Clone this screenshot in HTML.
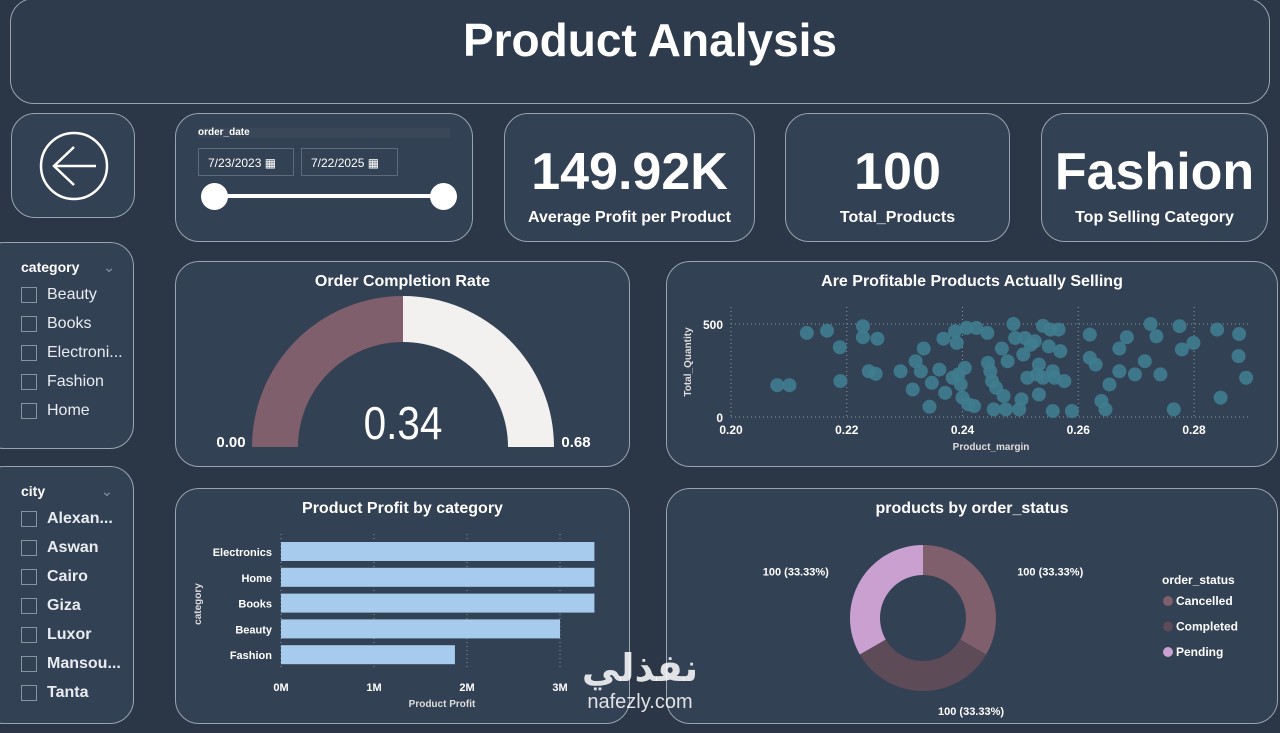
<!DOCTYPE html>
<html><head><meta charset="utf-8"><style>
body{margin:0;width:1280px;height:733px;background:#2b3747;font-family:"Liberation Sans","DejaVu Sans",sans-serif;color:#fff;overflow:hidden;position:relative}
.p{position:absolute;border:1.5px solid #9aa3ad;border-radius:24px;background:#334154;box-sizing:border-box}
.t{position:absolute;font-weight:bold;text-align:center;width:100%}
.cb{display:flex;align-items:center;font-size:16px;height:29px;color:#e8ecf0}
.cb i{width:14px;height:14px;border:1px solid #8a94a0;margin-right:10px;display:inline-block}
svg text{font-family:"Liberation Sans",sans-serif}
</style></head><body>
<div class="p" style="left:10px;top:-2px;width:1260px;height:106px;background:#2e3b4c"><div class="t" style="top:14px;font-size:46px;left:10px">Product Analysis</div></div>
<div class="p" style="left:11px;top:113px;width:124px;height:105px">
<svg width="124" height="105" style="position:absolute;left:0;top:0"><circle cx="62" cy="52" r="33" fill="none" stroke="#fff" stroke-width="2.5"/><path d="M84 52 L42 52 M62 33 L42 52 L62 71" fill="none" stroke="#fff" stroke-width="2.5"/></svg></div>
<div class="p" style="left:175px;top:113px;width:298px;height:129px">
<div style="position:absolute;left:22px;top:14px;width:252px;height:10px;background:#3a4758;font-size:10px;font-weight:bold;line-height:10px">order_date</div>
<div style="position:absolute;left:22px;top:34px;width:96px;height:28px;border:1px solid #5e6b7a;font-size:12px;line-height:28px;padding-left:9px;box-sizing:border-box">7/23/2023 ▦</div>
<div style="position:absolute;left:125px;top:34px;width:97px;height:28px;border:1px solid #5e6b7a;font-size:12px;line-height:28px;padding-left:9px;box-sizing:border-box">7/22/2025 ▦</div>
<div style="position:absolute;left:38px;top:80px;width:230px;height:4px;background:#fff"></div>
<div style="position:absolute;left:25px;top:69px;width:27px;height:27px;border-radius:50%;background:#fff"></div>
<div style="position:absolute;left:254px;top:69px;width:27px;height:27px;border-radius:50%;background:#fff"></div>
</div>
<div class="p" style="left:504px;top:113px;width:251px;height:129px"><div class="t" style="top:28px;font-size:52px">149.92K</div><div class="t" style="top:95px;font-size:16px">Average Profit per Product</div></div>
<div class="p" style="left:785px;top:113px;width:225px;height:129px"><div class="t" style="top:28px;font-size:52px">100</div><div class="t" style="top:95px;font-size:16px">Total_Products</div></div>
<div class="p" style="left:1041px;top:113px;width:227px;height:129px"><div class="t" style="top:28px;font-size:52px">Fashion</div><div class="t" style="top:95px;font-size:16px">Top Selling Category</div></div>
<div class="p" style="left:-20px;top:242px;width:154px;height:207px;padding:16px 0 0 40px">
<div style="font-size:14px;font-weight:bold;margin-bottom:4px">category <span style="color:#7a8594;margin-left:20px">⌄</span></div>
<div class="cb"><i></i>Beauty</div><div class="cb"><i></i>Books</div><div class="cb"><i></i>Electroni...</div><div class="cb"><i></i>Fashion</div><div class="cb"><i></i>Home</div></div>
<div class="p" style="left:-20px;top:466px;width:154px;height:258px;padding:16px 0 0 40px">
<div style="font-size:14px;font-weight:bold;margin-bottom:4px">city <span style="color:#7a8594;margin-left:52px">⌄</span></div>
<div style="font-weight:bold"><div class="cb"><i></i>Alexan...</div><div class="cb"><i></i>Aswan</div><div class="cb"><i></i>Cairo</div><div class="cb"><i></i>Giza</div><div class="cb"><i></i>Luxor</div><div class="cb"><i></i>Mansou...</div><div class="cb"><i></i>Tanta</div></div></div>

<div class="p" style="left:175px;top:261px;width:455px;height:206px"><div class="t" style="top:11px;font-size:16px">Order Completion Rate</div>
<svg id="gauge" width="455" height="206" style="position:absolute;left:0;top:0"></svg></div>
<div class="p" style="left:666px;top:261px;width:612px;height:206px"><div class="t" style="top:11px;font-size:16px">Are Profitable Products Actually Selling</div>
<svg id="scatter" width="612" height="206" style="position:absolute;left:0;top:0"></svg></div>
<div class="p" style="left:175px;top:488px;width:455px;height:236px"><div class="t" style="top:11px;font-size:16px">Product Profit by category</div>
<svg id="bar" width="455" height="236" style="position:absolute;left:0;top:0"></svg></div>
<div class="p" style="left:666px;top:488px;width:612px;height:236px"><div class="t" style="top:11px;font-size:16px">products by order_status</div>
<svg id="donut" width="612" height="236" style="position:absolute;left:0;top:0"></svg></div>
<div style="position:absolute;left:560px;top:648px;width:160px;text-align:center;color:rgba(255,255,255,0.85);font-family:'Liberation Sans','DejaVu Sans',sans-serif"><div style="font-size:38px;font-weight:bold;line-height:42px">نفذلي</div><div style="font-size:20px;line-height:24px">nafezly.com</div></div>
<script>
const NS="http://www.w3.org/2000/svg";
function mk(p,t,a){const e=document.createElementNS(NS,t);for(const k in a)e.setAttribute(k,a[k]);p.appendChild(e);return e;}
// gauge
const gaugeValue=0.34, gaugeMin=0, gaugeMax=0.68;
(function(){const s=document.getElementById('gauge');const cx=227,cy=185,R=151,r=105;
function arc(a0,a1,col,name){const p=(a,rr)=>[cx-rr*Math.cos(a),cy-rr*Math.sin(a)];const [x0,y0]=p(a0,R),[x1,y1]=p(a1,R),[x2,y2]=p(a1,r),[x3,y3]=p(a0,r);
const e=mk(s,'path',{d:`M${x0} ${y0} A${R} ${R} 0 0 1 ${x1} ${y1} L${x2} ${y2} A${r} ${r} 0 0 0 ${x3} ${y3}Z`,fill:col});}
const f=(gaugeValue-gaugeMin)/(gaugeMax-gaugeMin);arc(0,Math.PI*f,'#7e5f6b','gauge-value-arc');arc(Math.PI*f,Math.PI,'#f3f0f0','gauge-remaining-arc');
let t=mk(s,'text',{x:cx,y:cy-8,'text-anchor':'middle','font-size':46,fill:'#fff',transform:`translate(${cx*0.12},0) scale(0.88,1)`});t.textContent=gaugeValue.toFixed(2);
t=mk(s,'text',{x:55,y:185,'text-anchor':'middle','font-size':15,'font-weight':'bold',fill:'#fff'});t.textContent=gaugeMin.toFixed(2);
t=mk(s,'text',{x:400,y:185,'text-anchor':'middle','font-size':15,'font-weight':'bold',fill:'#fff'});t.textContent=gaugeMax.toFixed(2);})();
// scatter
const marginVals=[0.208,0.2101,0.2131,0.2166,0.2188,0.2189,0.2228,0.2228,0.2253,0.2238,0.2250,0.2293,0.2314,0.2319,0.2328,0.2333,0.2343,0.2347,0.2360,0.2367,0.2370,0.2387,0.2390,0.2393,0.2397,0.2400,0.2404,0.2407,0.2410,0.2420,0.2424,0.2443,0.2444,0.2448,0.2451,0.2454,0.2458,0.2468,0.2471,0.2475,0.2488,0.2491,0.2498,0.2502,0.2505,0.2508,0.2512,0.2518,0.2525,0.2529,0.2532,0.2539,0.2549,0.2552,0.2556,0.2559,0.2566,0.2569,0.2576,0.2589,0.2620,0.2620,0.2630,0.2640,0.2647,0.2654,0.2671,0.2671,0.2684,0.2698,0.2715,0.2725,0.2735,0.2742,0.2765,0.2775,0.2779,0.2799,0.2840,0.2846,0.2877,0.2878,0.2890,0.2532,0.2539,0.2383,0.2478,0.2556];
const quantityVals=[171,171,452,464,375,193,488,429,421,246,232,246,148,300,246,368,55,184,255,421,130,461,398,229,175,104,264,479,68,59,479,452,291,246,193,41,157,368,113,41,500,425,41,95,336,425,211,389,407,229,121,211,380,470,32,211,470,354,193,32,443,318,282,86,41,175,368,246,429,229,300,500,434,229,41,488,363,398,470,104,327,446,211,282,490,211,300,246];
const xTicks=[0.20,0.22,0.24,0.26,0.28], yTicks=[0,500];
(function(){const s=document.getElementById('scatter');const X=v=>64+(v-0.20)/0.08*463,Y=v=>155-v/500*93;
yTicks.forEach(v=>{mk(s,'line',{x1:64,x2:584,y1:Y(v),y2:Y(v),stroke:'#8b96a3','stroke-dasharray':'1 3'});const t=mk(s,'text',{x:56,y:Y(v)+5,'text-anchor':'end','font-size':12,'font-weight':'bold',fill:'#fff'});t.textContent=v;});
xTicks.forEach(v=>{mk(s,'line',{x1:X(v),x2:X(v),y1:45,y2:155,stroke:'#8b96a3','stroke-dasharray':'1 3'});const t=mk(s,'text',{x:X(v),y:172,'text-anchor':'middle','font-size':12,'font-weight':'bold',fill:'#fff'});t.textContent=v.toFixed(2);});
marginVals.forEach((m,i)=>{const c=mk(s,'circle',{cx:X(m),cy:Y(quantityVals[i]),r:7,fill:'#3f7d8f','fill-opacity':0.9});});
let t=mk(s,'text',{x:324,y:188,'text-anchor':'middle','font-size':10,'font-weight':'bold',fill:'#ddd'});t.textContent='Product_margin';
t=mk(s,'text',{x:0,y:0,'text-anchor':'middle','font-size':10,'font-weight':'bold',fill:'#ddd',transform:'translate(24,100) rotate(-90)'});t.textContent='Total_Quantity';})();
// bar
const barCats=['Electronics','Home','Books','Beauty','Fashion'];
const barVals=[3.37,3.37,3.37,3.0,1.87];
const barTicks=[0,1,2,3];
(function(){const s=document.getElementById('bar');const X=v=>105+v*93,y0=53,step=25.8;
barTicks.forEach(v=>{mk(s,'line',{x1:X(v),x2:X(v),y1:45,y2:180,stroke:'#8b96a3','stroke-dasharray':'1 3'});const t=mk(s,'text',{x:X(v),y:202,'text-anchor':'middle','font-size':11,'font-weight':'bold',fill:'#fff'});t.textContent=v+'M';});
barCats.forEach((c,i)=>{const y=y0+i*step;const r=mk(s,'rect',{x:X(0),y:y,width:X(barVals[i])-X(0),height:19,fill:'#a7cbec'});
const t=mk(s,'text',{x:96,y:y+14,'text-anchor':'end','font-size':11,'font-weight':'bold',fill:'#fff'});t.textContent=c;});
let t=mk(s,'text',{x:266,y:218,'text-anchor':'middle','font-size':10,'font-weight':'bold',fill:'#ddd'});t.textContent='Product Profit';
t=mk(s,'text',{x:0,y:0,'text-anchor':'middle','font-size':10,'font-weight':'bold',fill:'#ddd',transform:'translate(25,115) rotate(-90)'});t.textContent='category';})();
// donut
const statusLabels=['Cancelled','Completed','Pending'];
const statusVals=[100,100,100];
const statusColors=['#7e5f6b','#5d4b58','#c9a0d0'];
(function(){const s=document.getElementById('donut');const cx=256,cy=129,R=73,r=43;const tot=statusVals.reduce((a,b)=>a+b,0);let a=-Math.PI/2;
statusVals.forEach((v,i)=>{const a1=a+v/tot*2*Math.PI;const p=(ang,rr)=>[cx+rr*Math.cos(ang),cy+rr*Math.sin(ang)];const [x0,y0]=p(a,R),[x1,y1]=p(a1,R),[x2,y2]=p(a1,r),[x3,y3]=p(a,r);const lg=(a1-a)>Math.PI?1:0;
const e=mk(s,'path',{d:`M${x0} ${y0} A${R} ${R} 0 ${lg} 1 ${x1} ${y1} L${x2} ${y2} A${r} ${r} 0 ${lg} 0 ${x3} ${y3}Z`,fill:statusColors[i]});
const m=(a+a1)/2;const lx=cx+(R+30)*Math.cos(m),ly=cy+(R+20)*Math.sin(m);const t=mk(s,'text',{x:Math.cos(m)>0.2?lx+5:(Math.cos(m)<-0.2?lx-5:lx+15),y:ly+4,'text-anchor':Math.cos(m)>0.2?'start':(Math.cos(m)<-0.2?'end':'start'),'font-size':11,'font-weight':'bold',fill:'#fff'});
t.textContent=v+' ('+(v/tot*100).toFixed(2)+'%)';a=a1;});
let t=mk(s,'text',{x:495,y:95,'font-size':12,'font-weight':'bold',fill:'#fff'});t.textContent='order_status';
statusLabels.forEach((l,i)=>{mk(s,'circle',{cx:501,cy:112+i*25.5,r:5,fill:statusColors[i]});const tt=mk(s,'text',{x:509,y:116+i*25.5,'font-size':12,'font-weight':'bold',fill:'#fff'});tt.textContent=l;});})();
</script>
</body></html>
